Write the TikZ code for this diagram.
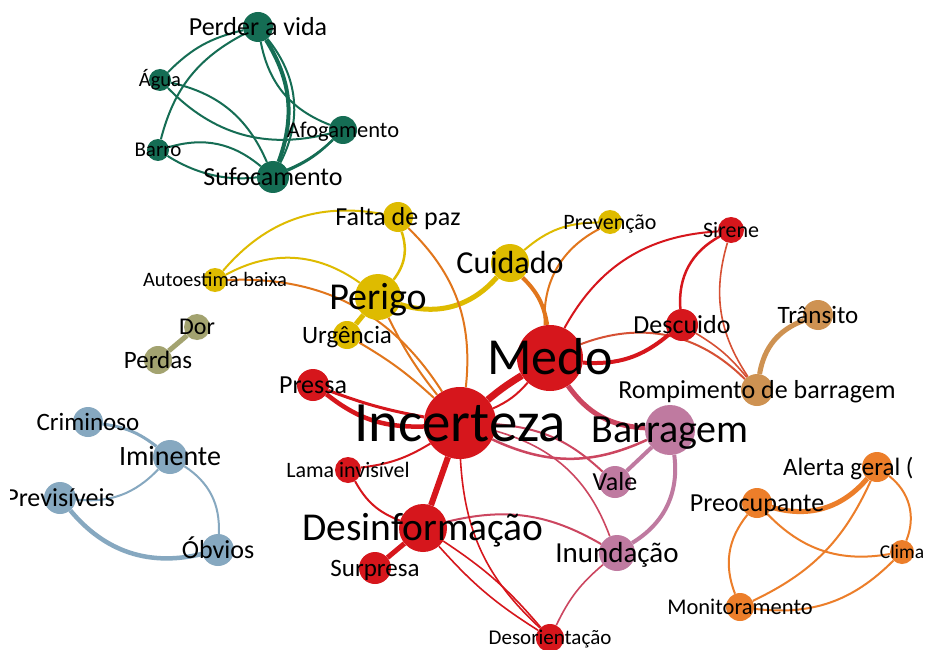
\documentclass[tikz,border=0pt]{standalone}
\usepackage{fontspec}
\setmainfont{Carlito}
\pgfdeclarelayer{bg}
\pgfdeclarelayer{links}
\pgfsetlayers{bg,links,main}

\definecolor{cGreen}{RGB}{21,109,84}
\definecolor{cYellow}{RGB}{222,187,0}
\definecolor{cOlive}{RGB}{163,163,112}
\definecolor{cBlue}{RGB}{134,168,192}
\definecolor{cRed}{RGB}{214,22,28}
\definecolor{cPink}{RGB}{191,122,160}
\definecolor{cTan}{RGB}{206,146,82}
\definecolor{cOrange}{RGB}{236,126,42}
\definecolor{eOrange}{RGB}{225,118,28}
\definecolor{eRedPink}{RGB}{204,70,96}
\definecolor{eRedTan}{RGB}{214,80,52}

\tikzset{
  vtx/.style 2 args={circle, inner sep=0pt, minimum size=#2pt, fill=#1},
  lbl/.style={inner sep=0pt, text height={0.64*#1pt}, text depth=0pt,
              font=\fontsize{#1}{#1}\selectfont},
  lk/.style={line width=#1pt},
  lk/.default=2
}

\begin{document}
\begin{tikzpicture}[x=1pt,y=1pt]
\useasboundingbox (0,0) rectangle (925,649);
\begin{pgfonlayer}{bg}
  \fill[white] (0,0) rectangle (925,649);
\end{pgfonlayer}
\clip (10,0) rectangle (925,649);

% ---- vertices ----
% green group
\node[vtx={cGreen}{30}] (perder) at (258,622) {};
\node[vtx={cGreen}{22}] (agua) at (160,569) {};
\node[vtx={cGreen}{22}] (barro) at (158,499) {};
\node[vtx={cGreen}{28}] (afog) at (343,519) {};
\node[vtx={cGreen}{32}] (sufoc) at (273,472) {};
% yellow group
\node[vtx={cYellow}{30}] (falta) at (398,432) {};
\node[vtx={cYellow}{24}] (auto) at (215,369) {};
\node[vtx={cYellow}{46}] (perigo) at (378,352) {};
\node[vtx={cYellow}{28}] (urg) at (347,314) {};
\node[vtx={cYellow}{38}] (cuid) at (510,386) {};
\node[vtx={cYellow}{24}] (prev) at (610,427) {};
% olive pair
\node[vtx={cOlive}{26}] (dor) at (197,322) {};
\node[vtx={cOlive}{28}] (perdas) at (158,289) {};
% blue group
\node[vtx={cBlue}{30}] (crim) at (88,227) {};
\node[vtx={cBlue}{34}] (imin) at (170,192) {};
\node[vtx={cBlue}{32}] (previs) at (60,151) {};
\node[vtx={cBlue}{32}] (obv) at (218,99) {};
% red group
\node[vtx={cRed}{66}] (medo) at (550,291) {};
\node[vtx={cRed}{72}] (inc) at (460,226) {};
\node[vtx={cRed}{26}] (sir) at (731,419) {};
\node[vtx={cRed}{32}] (desc) at (682,324) {};
\node[vtx={cRed}{32}] (pressa) at (313,264) {};
\node[vtx={cRed}{26}] (lama) at (348,179) {};
\node[vtx={cRed}{48}] (desinf) at (423,121) {};
\node[vtx={cRed}{32}] (surp) at (375,81) {};
\node[vtx={cRed}{28}] (desor) at (550,11) {};
% tan pair
\node[vtx={cTan}{30}] (trans) at (818,334) {};
\node[vtx={cTan}{32}] (romp) at (757,259) {};
% pink group
\node[vtx={cPink}{32}] (vale) at (615,167) {};
\node[vtx={cPink}{50}] (barr) at (670,219) {};
\node[vtx={cPink}{36}] (inund) at (617,96) {};
% orange group
\node[vtx={cOrange}{30}] (alerta) at (877,182) {};
\node[vtx={cOrange}{30}] (preoc) at (757,146) {};
\node[vtx={cOrange}{24}] (clima) at (902,97) {};
\node[vtx={cOrange}{28}] (monit) at (740,42) {};

% ---- links ----
\begin{pgfonlayer}{links}
% green
\draw[cGreen, lk] (perder) to[bend right=16] (agua);
\draw[cGreen, lk] (perder) to[bend right=24] (barro);
\draw[cGreen, lk] (perder) to[bend right=29] (afog);
\draw[cGreen, lk=4] (perder) to[bend left=26] (sufoc);
\draw[cGreen, lk] (perder) to[bend left=33] (sufoc);
\draw[cGreen, lk] (agua) to[bend right=30] (afog);
\draw[cGreen, lk] (agua) to[bend left=27] (sufoc);
\draw[cGreen, lk] (barro) to[bend left=28] (sufoc);
\draw[cGreen, lk] (barro) to[bend right=38] (afog);
\draw[cGreen, lk=2.5] (sufoc) to[bend right=10] (afog);
% yellow
\draw[cYellow, lk] (auto) to[bend left=30] (falta);
\draw[cYellow, lk] (auto) to[bend left=32] (perigo);
\draw[cYellow, lk=2.5] (falta) to[bend left=28] (perigo);
\draw[cYellow, lk=5] (perigo) to[bend right=33] (cuid);
\draw[cYellow, lk=5] (perigo) -- (urg);
\draw[cYellow, lk] (cuid) to[bend left=20] (prev);
% orange between yellow and red
\draw[eOrange, lk] (auto) to[bend left=30] (inc);
\draw[eOrange, lk] (falta) to[bend left=26] (inc);
\draw[eOrange, lk] (perigo) to[bend right=6] (inc);
\draw[eOrange, lk] (urg) to[bend left=6] (inc);
\draw[eOrange, lk=4] (cuid) to[bend left=18] (medo);
\draw[eOrange, lk] (prev) to[bend right=33] (medo);
% red
\draw[cRed, lk] (medo) to[bend left=29] (sir);
\draw[cRed, lk=2.5] (desc) to[bend left=33] (sir);
\draw[eRedTan, lk=1.6] (sir) to[bend right=25] (romp);
\draw[eRedTan, lk=1.6] (desc) to[bend left=10] (romp);
\draw[eRedTan, lk=2] (medo) to[bend left=33] (romp);
\draw[cRed, lk=4] (medo) to[bend right=22] (desc);
\draw[cTan, lk=5] (romp) to[bend left=30] (trans);
\draw[cRed, lk=7] (inc) to[bend left=4] (medo);
\draw[cRed, lk=2] (inc) to[bend right=12] (medo);
\draw[eRedPink, lk=5] (medo) to[bend right=26] (barr);
\draw[cRed, lk=4.5] (pressa) to[bend right=20] (inc);
\draw[cRed, lk=3] (pressa) to[bend right=5] (inc);
\draw[cRed, lk=2] (inc) to[bend left=12] (lama);
\draw[cRed, lk] (lama) to[bend right=20] (desinf);
\draw[cRed, lk=6] (inc) -- (desinf);
\draw[cRed, lk=5] (desinf) -- (surp);
\draw[eRedPink, lk] (desinf) to[bend left=22] (inund);
\draw[cRed, lk=1.6] (desinf) to[bend left=8] (desor);
\draw[cRed, lk=1.6] (desinf) to[bend right=8] (desor);
\draw[cRed, lk=1.6] (inc) to[bend right=22] (desor);
\draw[eRedPink, lk=1.6] (inund) to[bend right=12] (desor);
\draw[eRedPink, lk=2.5] (inc) to[bend right=25] (barr);
\draw[eRedPink, lk=2] (inc) to[bend left=19] (vale);
\draw[eRedPink, lk=1.6] (inc) to[bend left=27] (inund);
% pink
\draw[cPink, lk=4] (barr) -- (vale);
\draw[cPink, lk=4] (barr) to[bend left=33] (inund);
% olive
\draw[cOlive, lk=5] (dor) -- (perdas);
% blue
\draw[cBlue, lk=3] (crim) to[bend left=15] (imin);
\draw[cBlue, lk] (imin) to[bend left=26] (previs);
\draw[cBlue, lk] (imin) to[bend left=30] (obv);
\draw[cBlue, lk=4.5] (previs) to[bend right=32] (obv);
% orange
\draw[cOrange, lk=5] (preoc) to[bend right=33] (alerta);
\draw[cOrange, lk] (preoc) to[bend right=28] (clima);
\draw[cOrange, lk] (preoc) to[bend right=30] (monit);
\draw[cOrange, lk] (alerta) to[bend left=37] (clima);
\draw[cOrange, lk] (alerta) to[bend left=20] (monit);
\draw[cOrange, lk] (clima) to[bend left=26] (monit);
\end{pgfonlayer}

% ---- labels ----
\node[lbl=26] (perder-l) at (perder) {Perder a vida};
\node[lbl=20.5] (agua-l) at (agua) {Água};
\node[lbl=21] (barro-l) at (barro) {Barro};
\node[lbl=22.5] (afog-l) at (afog) {Afogamento};
\node[lbl=26] (sufoc-l) at (sufoc) {Sufocamento};
\node[lbl=26] (falta-l) at (falta) {Falta de paz};
\node[lbl=20.5] (auto-l) at (auto) {Autoestima baixa};
\node[lbl=38] (perigo-l) at (perigo) {Perigo};
\node[lbl=25] (urg-l) at (urg) {Urgência};
\node[lbl=32] (cuid-l) at (cuid) {Cuidado};
\node[lbl=22] (prev-l) at (prev) {Prevenção};
\node[lbl=24] (dor-l) at (dor) {Dor};
\node[lbl=25] (perdas-l) at (perdas) {Perdas};
\node[lbl=25] (crim-l) at (crim) {Criminoso};
\node[lbl=28] (imin-l) at (imin) {Iminente};
\node[lbl=26] (previs-l) at (previs) {Previsíveis};
\node[lbl=26] (obv-l) at (obv) {Óbvios};
\node[lbl=52] (medo-l) at (medo) {Medo};
\node[lbl=57] (inc-l) at (inc) {Incerteza};
\node[lbl=22] (sir-l) at (sir) {Sirene};
\node[lbl=26] (desc-l) at (desc) {Descuido};
\node[lbl=26] (pressa-l) at (pressa) {Pressa};
\node[lbl=22] (lama-l) at (lama) {Lama invisível};
\node[lbl=39.5] (desinf-l) at (desinf) {Desinformação};
\node[lbl=25] (surp-l) at (surp) {Surpresa};
\node[lbl=21] (desor-l) at (desor) {Desorientação};
\node[lbl=25] (trans-l) at (trans) {Trânsito};
\node[lbl=26] (romp-l) at (romp) {Rompimento de barragem};
\node[lbl=26] (vale-l) at (vale) {Vale};
\node[lbl=40] (barr-l) at (barr) {Barragem};
\node[lbl=29] (inund-l) at (inund) {Inundação};
\node[lbl=25, anchor=west] (alerta-l) at (783,182) {Alerta geral (};
\node[lbl=26] (preoc-l) at (preoc) {Preocupante};
\node[lbl=19.5] (clima-l) at (clima) {Clima};
\node[lbl=22.5] (monit-l) at (monit) {Monitoramento};
\end{tikzpicture}
\end{document}
